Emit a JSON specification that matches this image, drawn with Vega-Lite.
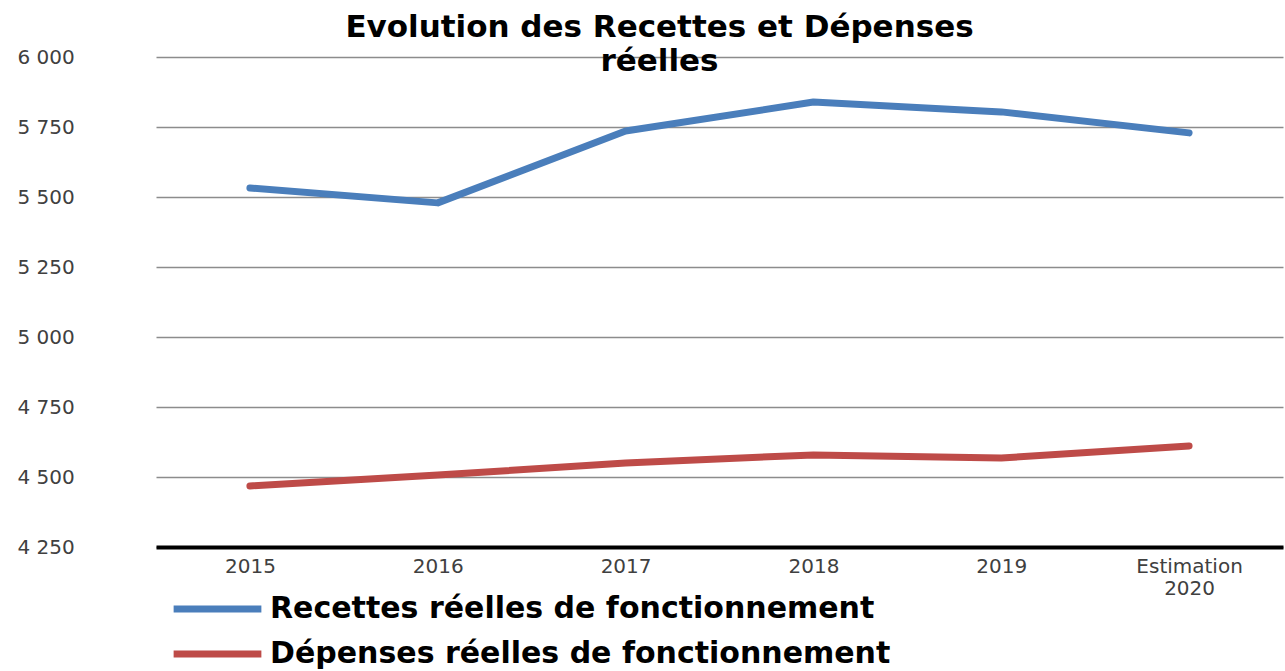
{
  "$schema": "https://vega.github.io/schema/vega-lite/v6.json",
  "width": 1127,
  "height": 490,
  "autosize": "none",
  "padding": {"left": 156, "top": 57, "right": 2, "bottom": 124},
  "background": "white",
  "config": {"view": {"stroke": null}},
  "title": {
    "text": ["Evolution des Recettes et Dépenses", "réelles"],
    "font": "DejaVu Sans",
    "fontSize": 31,
    "fontWeight": "bold",
    "color": "#000000",
    "anchor": "middle",
    "lineHeight": 34,
    "dx": -60,
    "offset": -31
  },
  "data": {
    "values": [
      {"annee": "2015", "serie": "Recettes réelles de fonctionnement", "valeur": 5532},
      {"annee": "2016", "serie": "Recettes réelles de fonctionnement", "valeur": 5479},
      {"annee": "2017", "serie": "Recettes réelles de fonctionnement", "valeur": 5736},
      {"annee": "2018", "serie": "Recettes réelles de fonctionnement", "valeur": 5839},
      {"annee": "2019", "serie": "Recettes réelles de fonctionnement", "valeur": 5804},
      {"annee": "Estimation 2020", "serie": "Recettes réelles de fonctionnement", "valeur": 5729},
      {"annee": "2015", "serie": "Dépenses réelles de fonctionnement", "valeur": 4468},
      {"annee": "2016", "serie": "Dépenses réelles de fonctionnement", "valeur": 4507},
      {"annee": "2017", "serie": "Dépenses réelles de fonctionnement", "valeur": 4550},
      {"annee": "2018", "serie": "Dépenses réelles de fonctionnement", "valeur": 4579},
      {"annee": "2019", "serie": "Dépenses réelles de fonctionnement", "valeur": 4568},
      {"annee": "Estimation 2020", "serie": "Dépenses réelles de fonctionnement", "valeur": 4611}
    ]
  },
  "mark": {"type": "line", "strokeWidth": 7, "strokeCap": "round", "strokeJoin": "round"},
  "encoding": {
    "x": {
      "field": "annee",
      "type": "ordinal",
      "sort": null,
      "scale": {"type": "point", "padding": 0.5},
      "title": null,
      "axis": {
        "labelAngle": 0,
        "labelExpr": "split(datum.label, ' ')",
        "labelFont": "DejaVu Sans",
        "labelFontSize": 20,
        "labelColor": "#404040",
        "labelPadding": 9,
        "labelLineHeight": 22,
        "ticks": false,
        "domainColor": "#000000",
        "domainWidth": 4,
        "grid": false
      }
    },
    "y": {
      "field": "valeur",
      "type": "quantitative",
      "scale": {"domain": [4250, 6000], "nice": false, "zero": false},
      "title": null,
      "axis": {
        "values": [4250, 4500, 4750, 5000, 5250, 5500, 5750, 6000],
        "labelExpr": "replace(format(datum.value, ','), ',', ' ')",
        "labelFont": "DejaVu Sans",
        "labelFontSize": 20,
        "labelColor": "#404040",
        "labelAlign": "left",
        "labelBaseline": "middle",
        "labelPadding": 139,
        "ticks": false,
        "tickSize": 0,
        "domain": false,
        "grid": true,
        "gridColor": "#8c8c8c",
        "gridWidth": 1.5
      }
    },
    "color": {
      "field": "serie",
      "type": "nominal",
      "sort": ["Recettes réelles de fonctionnement", "Dépenses réelles de fonctionnement"],
      "scale": {
        "domain": ["Recettes réelles de fonctionnement", "Dépenses réelles de fonctionnement"],
        "range": ["#4a7ebb", "#be4b48"]
      },
      "legend": {
        "title": null,
        "orient": "none",
        "legendX": 14,
        "legendY": 532,
        "symbolType": "stroke",
        "symbolSize": 7700,
        "symbolStrokeWidth": 7,
        "clipHeight": 40,
        "labelFont": "DejaVu Sans",
        "labelFontSize": 30,
        "labelFontWeight": "bold",
        "labelColor": "#000000",
        "labelOffset": 5,
        "rowPadding": 5,
        "labelLimit": 1100
      }
    }
  }
}
